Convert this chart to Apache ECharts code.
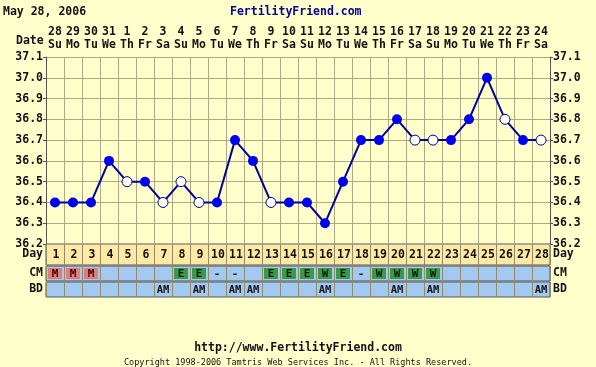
<!DOCTYPE html>
<html>
<head>
<meta charset="utf-8">
<script src="https://cdn.jsdelivr.net/npm/echarts@6/dist/echarts.min.js"></script>
<style>
html,body{margin:0;padding:0;background:#FFFFCC;}
#c{width:596px;height:367px;}
</style>
</head>
<body>
<div id="c"></div>
<script>
// ---- data ----
const dateNumbers = ['28','29','30','31','1','2','3','4','5','6','7','8','9','10','11','12','13','14','15','16','17','18','19','20','21','22','23','24'];
const weekdays = ['Su','Mo','Tu','We','Th','Fr','Sa','Su','Mo','Tu','We','Th','Fr','Sa','Su','Mo','Tu','We','Th','Fr','Sa','Su','Mo','Tu','We','Th','Fr','Sa'];
const cycleDays = ['1','2','3','4','5','6','7','8','9','10','11','12','13','14','15','16','17','18','19','20','21','22','23','24','25','26','27','28'];
const temps = [36.4,36.4,36.4,36.6,36.5,36.5,36.4,36.5,36.4,36.4,36.7,36.6,36.4,36.4,36.4,36.3,36.5,36.7,36.7,36.8,36.7,36.7,36.7,36.8,37.0,36.8,36.7,36.7];
const openPoint = [0,0,0,0,1,0,1,1,1,0,0,0,1,0,0,0,0,0,0,0,1,1,0,0,0,1,0,1];
const cervicalMucus = ['M','M','M','','','','','E','E','-','-','','E','E','E','W','E','-','W','W','W','W','','','','','',''];
const intercourse = ['','','','','','','AM','','AM','','AM','AM','','','','AM','','','','AM','','AM','','','','','','AM'];

// ---- styling ----
const FONT = 'DejaVu Sans Mono';
const lblStyle = {fontFamily: FONT, fontWeight: 'bold', fontSize: 11.5, color: '#111'};
const gridLineColor = '#ada783';
const L = 46, R = 46;

const chart = echarts.init(document.getElementById('c'), null, {renderer: 'canvas'});

function rowAxes(gridIndex, name) {
  return [
    {type: 'category', gridIndex, data: [name], position: 'left',
     axisLine: {show: false}, axisTick: {show: false},
     axisLabel: Object.assign({margin: 3}, lblStyle)},
    {type: 'category', gridIndex, data: [name], position: 'right',
     axisLine: {show: false}, axisTick: {show: false},
     axisLabel: Object.assign({margin: 3}, lblStyle)}
  ];
}
function rowX(gridIndex) {
  return {type: 'category', gridIndex, data: cycleDays, boundaryGap: true,
    axisLine: {show: false}, axisTick: {show: false}, axisLabel: {show: false},
    splitLine: {show: true, interval: 0, lineStyle: {color: '#8f8a6a', width: 1}}};
}

const tempData = temps.map((t, i) => ({
  value: t,
  symbolSize: 10,
  itemStyle: openPoint[i]
    ? {color: '#ffffff', borderColor: '#00008c', borderWidth: 1}
    : {color: '#0000ee', borderColor: '#0000ee', borderWidth: 0}
}));

const option = {
  backgroundColor: '#FFFFCC',
  animation: false,
  grid: [
    {left: L, right: R, top: 57, height: 187, show: true, backgroundColor: '#FFFFCC', borderColor: gridLineColor, borderWidth: 0},
    {left: L, right: R, top: 244, height: 21, show: true, backgroundColor: '#FFE9A3', borderColor: '#555', borderWidth: 1},
    {left: L, right: R, top: 266, height: 15, show: true, backgroundColor: '#A3C9F0', borderColor: '#555', borderWidth: 1},
    {left: L, right: R, top: 282, height: 15, show: true, backgroundColor: '#A3C9F0', borderColor: '#555', borderWidth: 1}
  ],
  xAxis: [
    {type: 'category', gridIndex: 0, data: cycleDays, boundaryGap: true,
     axisLine: {show: false}, axisTick: {show: false}, axisLabel: {show: false},
     splitLine: {show: true, interval: 0, lineStyle: {color: gridLineColor}}},
    {type: 'category', gridIndex: 0, position: 'top', boundaryGap: true,
     data: dateNumbers.map((d, i) => d + '\n' + weekdays[i]),
     axisLine: {show: false}, axisTick: {show: false},
     axisLabel: Object.assign({interval: 0, margin: 5, lineHeight: 13}, lblStyle)},
    rowX(1), rowX(2), rowX(3)
  ],
  yAxis: [
    {type: 'value', gridIndex: 0, min: 36.2, max: 37.1, interval: 0.1, position: 'left',
     axisLine: {show: true, lineStyle: {color: '#555'}},
     axisTick: {show: true, length: 3, lineStyle: {color: '#555'}},
     axisLabel: Object.assign({margin: 3, formatter: v => v.toFixed(1)}, lblStyle),
     splitLine: {show: true, lineStyle: {color: gridLineColor}}},
    {type: 'value', gridIndex: 0, min: 36.2, max: 37.1, interval: 0.1, position: 'right',
     axisLine: {show: true, lineStyle: {color: '#555'}},
     axisTick: {show: true, length: 3, lineStyle: {color: '#555'}},
     axisLabel: Object.assign({margin: 3, formatter: v => v.toFixed(1)}, lblStyle),
     splitLine: {show: false}},
    ...rowAxes(1, 'Day'), ...rowAxes(2, 'CM'), ...rowAxes(3, 'BD')
  ],
  series: [
    {type: 'line', xAxisIndex: 0, yAxisIndex: 0, data: tempData, symbol: 'circle',
     lineStyle: {color: '#00009a', width: 2}, z: 5},
    {type: 'custom', xAxisIndex: 2, yAxisIndex: 2,
     data: cycleDays.map((d, i) => [i, 0]),
     renderItem: (params, api) => {
       const c = api.coord([api.value(0), 0]);
       return {type: 'text', style: {text: cycleDays[params.dataIndex], x: c[0] + 1, y: c[1] + 1,
         textAlign: 'center', textVerticalAlign: 'middle',
         font: 'bold 11.5px ' + FONT, fill: '#111'}};
     }},
    {type: 'custom', xAxisIndex: 3, yAxisIndex: 4,
     data: cycleDays.map((d, i) => [i, 0]),
     renderItem: (params, api) => {
       const v = cervicalMucus[params.dataIndex];
       if (!v) return null;
       const c = api.coord([api.value(0), 0]);
       const s = api.size([1, 1]);
       const children = [];
       if (v !== '-') {
         children.push({type: 'rect', shape: {x: c[0] - s[0] / 2 + 2, y: c[1] - s[1] / 2 + 2, width: s[0] - 4, height: s[1] - 4},
           style: {fill: v === 'M' ? '#E27B7B' : '#3A9A48'}});
       }
       children.push({type: 'text', style: {text: v, x: c[0], y: c[1] + 0.5,
         textAlign: 'center', textVerticalAlign: 'middle',
         font: 'bold 11px ' + FONT, fill: v === 'M' ? '#3a0000' : '#0c1a0c'}});
       return {type: 'group', children};
     }},
    {type: 'custom', xAxisIndex: 4, yAxisIndex: 6,
     data: cycleDays.map((d, i) => [i, 0]),
     renderItem: (params, api) => {
       const v = intercourse[params.dataIndex];
       if (!v) return null;
       const c = api.coord([api.value(0), 0]);
       return {type: 'text', style: {text: v, x: c[0], y: c[1] + 0.5,
         textAlign: 'center', textVerticalAlign: 'middle',
         font: 'bold 10.5px ' + FONT, fill: '#111'}};
     }}
  ],
  graphic: [
    {type: 'text', left: 3, top: 6, style: {text: 'May 28, 2006', font: 'bold 11.5px ' + FONT, fill: '#111'}},
    {type: 'text', left: 230, top: 6, style: {text: 'FertilityFriend.com', font: 'bold 11.5px ' + FONT, fill: '#000099'}},
    {type: 'text', left: 16, top: 35, style: {text: 'Date', font: 'bold 11.5px ' + FONT, fill: '#111'}},
    {type: 'text', left: 'center', top: 342, style: {text: 'http://www.FertilityFriend.com', font: 'bold 11.5px ' + FONT, fill: '#111'}},
    {type: 'text', left: 'center', top: 358, style: {text: 'Copyright 1998-2006 Tamtris Web Services Inc. - All Rights Reserved.', font: '8.5px ' + FONT, fill: '#111'}}
  ]
};
chart.setOption(option);
</script>
</body>
</html>
